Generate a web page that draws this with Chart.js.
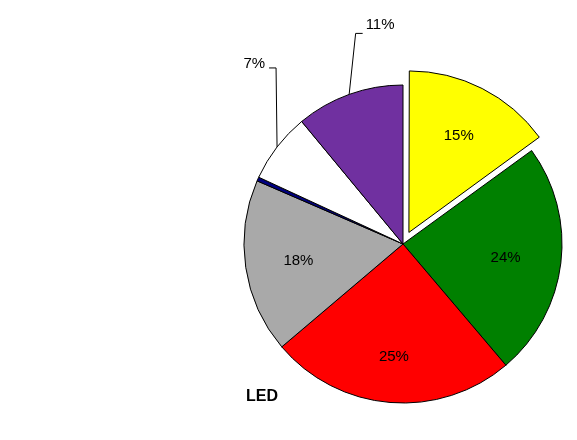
<!DOCTYPE html>
<html>
<head>
<meta charset="utf-8">
<script src="https://cdn.jsdelivr.net/npm/chart.js@4/dist/chart.umd.min.js"></script>
<style>
  html, body { margin: 0; padding: 0; background: #fff; }
  #wrap { width: 577px; height: 440px; position: relative; }
</style>
</head>
<body>
<div id="wrap"><canvas id="c" width="577" height="440"></canvas></div>
<script>
// ---- data ----
const categories = ['Yellow', 'Green', 'Red', 'Gray', 'Blue', 'White', 'Purple'];
const shares = [15, 23.8, 25, 17.7, 0.4, 7.1, 11];
const pctLabels = ['15%', '24%', '25%', '18%', '', '7%', '11%'];
const chartTitle = 'LED';

// ---- style ----
const sliceColors = ['#FFFF00', '#008000', '#FF0000', '#A9A9A9', '#000080', '#FFFFFF', '#7030A0'];
const sliceOffsets = [13, 0, 0, 0, 0, 0, 0];          // effective pixel offsets
const labelRadius = [0.69, 0.65, 0.70, 0.665, 0, 0, 0]; // inside label distance (fraction of radius)
const labelFont = '15px "Liberation Sans", Arial, sans-serif';
// outside labels with leader lines: elbow offset relative to slice edge midpoint
const outside = {
  5: { elbowDx: -1, elbowDy: -79, tail: -7, side: 'left' },
  6: { elbowDx: 6.5, elbowDy: -61, tail: 7, side: 'right' }
};

const labelPlugin = {
  id: 'pieLabels',
  afterDatasetsDraw(chart) {
    const ctx = chart.ctx;
    const meta = chart.getDatasetMeta(0);
    ctx.save();
    ctx.font = labelFont;
    ctx.fillStyle = '#000';
    meta.data.forEach((arc, i) => {
      const txt = pctLabels[i];
      if (!txt) return;
      const p = arc.getProps(['x', 'y', 'startAngle', 'endAngle', 'outerRadius'], true);
      const mid = (p.startAngle + p.endAngle) / 2;
      const off = sliceOffsets[i];
      const cx = p.x + Math.cos(mid) * off;
      const cy = p.y + Math.sin(mid) * off;
      if (outside[i]) {
        const o = outside[i];
        const ex = cx + Math.cos(mid) * p.outerRadius;
        const ey = cy + Math.sin(mid) * p.outerRadius;
        const bx = ex + o.elbowDx, by = ey + o.elbowDy;
        const tx = bx + o.tail;
        ctx.beginPath();
        ctx.strokeStyle = '#000';
        ctx.lineWidth = 1;
        ctx.moveTo(ex, ey);
        ctx.lineTo(bx, by);
        ctx.lineTo(tx, by);
        ctx.stroke();
        ctx.textBaseline = 'alphabetic';
        if (o.side === 'left') {
          ctx.textAlign = 'right';
          ctx.fillText(txt, tx - 4, by);
        } else {
          ctx.textAlign = 'left';
          ctx.fillText(txt, tx + 3, by - 4.5);
        }
      } else {
        const d = p.outerRadius * labelRadius[i];
        ctx.textAlign = 'center';
        ctx.textBaseline = 'middle';
        ctx.fillText(txt, cx + Math.cos(mid) * d, cy + Math.sin(mid) * d + 1.5);
      }
    });
    ctx.font = 'bold 16px "Liberation Sans", Arial, sans-serif';
    ctx.textAlign = 'left';
    ctx.textBaseline = 'middle';
    ctx.fillText(chartTitle, 246, 397);
    ctx.restore();
  }
};

new Chart(document.getElementById('c'), {
  type: 'pie',
  data: {
    labels: categories,
    datasets: [{
      data: shares,
      backgroundColor: sliceColors,
      borderColor: '#000',
      borderWidth: 1,
      offset: sliceOffsets.map(v => v * 4)  // Chart.js v4 draws offset/4
    }]
  },
  options: {
    responsive: false,
    animation: false,
    radius: 159,
    layout: { padding: { left: 240, right: 11, top: 58, bottom: 10 } },
    plugins: {
      legend: { display: false },
      tooltip: { enabled: false },
      title: { display: false }
    }
  },
  plugins: [labelPlugin]
});
</script>
</body>
</html>
